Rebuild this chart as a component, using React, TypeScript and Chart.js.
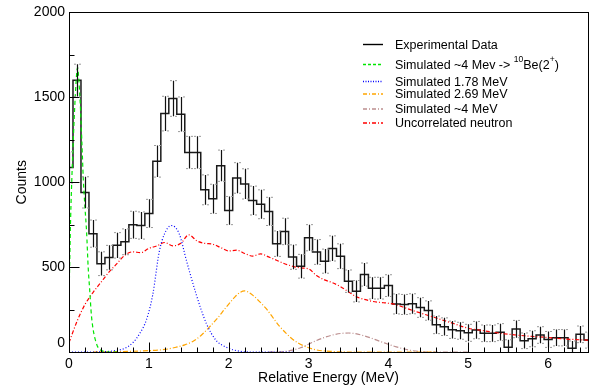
import React, { useEffect, useRef } from 'react';
import { Chart, registerables } from 'chart.js';

Chart.register(...registerables);

// Histogram bins (0.1 MeV wide, centred on these energies)
const binCenters = [
  0.0, 0.1, 0.2, 0.3, 0.4, 0.5, 0.6, 0.7, 0.8, 0.9,
  1.0, 1.1, 1.2, 1.3, 1.4, 1.5, 1.6, 1.7, 1.8, 1.9,
  2.0, 2.1, 2.2, 2.3, 2.4, 2.5, 2.6, 2.7, 2.8, 2.9,
  3.0, 3.1, 3.2, 3.3, 3.4, 3.5, 3.6, 3.7, 3.8, 3.9,
  4.0, 4.1, 4.2, 4.3, 4.4, 4.5, 4.6, 4.7, 4.8, 4.9,
  5.0, 5.1, 5.2, 5.3, 5.4, 5.5, 5.6, 5.7, 5.8, 5.9,
  6.0, 6.1, 6.2, 6.3, 6.4, 6.5,
];
const counts = [
  1087, 1600, 940, 697, 520, 556, 628, 649, 749, 745,
  816, 1123, 1404, 1493, 1400, 1175, 1175, 955, 902, 1097,
  833, 1025, 990, 892, 870, 828, 638, 710, 559, 505,
  673, 589, 535, 610, 564, 417, 358, 456, 376, 376,
  391, 283, 280, 284, 262, 244, 160, 149, 131, 125,
  113, 129, 110, 110, 117, 28, 135, 66, 78, 100,
  74, 84, 84, 22, 104, 70,
];
const errors = [
  92, 95, 92, 80, 70, 72, 75, 76, 80, 80,
  83, 93, 102, 105, 102, 95, 95, 88, 86, 92,
  83, 90, 89, 85, 85, 83, 75, 78, 72, 70,
  77, 73, 71, 74, 73, 66, 63, 68, 64, 64,
  64, 59, 59, 59, 58, 57, 52, 52, 51, 50,
  50, 51, 49, 49, 50, 44, 51, 46, 47, 49,
  47, 48, 48, 43, 49, 47,
];

// Simulated ~4 MeV -> 10Be(2+)
const greenX = [0, 0.01, 0.02, 0.04, 0.06, 0.08, 0.1, 0.11, 0.12, 0.14, 0.16, 0.18, 0.2, 0.22, 0.24, 0.26, 0.28, 0.3, 0.32, 0.34, 0.36, 0.4, 0.45, 0.5, 0.6];
const greenY = [300, 550, 780, 1080, 1320, 1520, 1660, 1675, 1620, 1470, 1250, 1010, 850, 710, 500, 360, 220, 140, 90, 55, 30, 10, 3, 0, 0];
// Simulated 1.78 MeV
const blueX = [0, 0.3, 0.45, 0.55, 0.7, 0.8, 0.88, 0.97, 1.05, 1.13, 1.2, 1.28, 1.38, 1.47, 1.59, 1.72, 1.84, 1.97, 2.13, 2.3, 2.8];
const blueY = [0, 0, 2, 6, 22, 55, 105, 190, 340, 590, 700, 745, 697, 540, 344, 168, 70, 28, 5, 0, 0];
// Simulated 2.69 MeV
const orangeX = [0.3, 0.6, 1.0, 1.2, 1.34, 1.45, 1.55, 1.66, 1.76, 1.87, 1.97, 2.07, 2.14, 2.2, 2.3, 2.38, 2.47, 2.55, 2.63, 2.72, 2.8, 2.88, 3.0, 3.1, 3.3, 3.5, 4.6];
const orangeY = [0, 2, 8, 15, 28, 42, 62, 100, 148, 205, 265, 320, 350, 360, 335, 300, 255, 205, 155, 110, 75, 50, 25, 12, 3, 0, 0];
// Simulated ~4 MeV
const brownX = [2.5, 2.7, 2.9, 3.1, 3.3, 3.5, 3.7, 3.9, 4.1, 4.3, 4.5, 5.0];
const brownY = [0, 3, 25, 68, 100, 112, 95, 62, 30, 8, 0, 0];
// Uncorrelated neutron
const redX = [
  0, 0.1, 0.2, 0.3, 0.4, 0.5, 0.6, 0.7, 0.8, 0.9, 1.0, 1.1, 1.2, 1.3, 1.4, 1.5, 1.6, 1.7, 1.8, 1.9,
  2.0, 2.1, 2.2, 2.3, 2.4, 2.5, 2.6, 2.7, 2.8, 2.9, 3.0, 3.1, 3.2, 3.3, 3.4, 3.5, 3.6, 3.7, 3.8, 3.9,
  4.0, 4.1, 4.2, 4.3, 4.4, 4.5, 4.6, 4.8, 5.0, 5.2, 5.4, 5.6, 5.8, 6.0, 6.2, 6.4, 6.5,
];
const redY = [
  55, 180, 280, 350, 410, 470, 520, 570, 590, 585, 610, 625, 645, 625, 640, 690, 655, 640, 635, 615,
  595, 600, 580, 565, 578, 560, 540, 520, 505, 495, 490, 450, 425, 408, 385, 355, 325, 310, 298, 292,
  287, 278, 262, 245, 230, 215, 200, 170, 140, 125, 110, 100, 92, 85, 77, 72, 70,
];

const xTickValues = [0, 1, 2, 3, 4, 5, 6];
const yTickValues = [0, 500, 1000, 1500, 2000];
const xMinorTicks = [0.2, 0.4, 0.6, 0.8, 1.2, 1.4, 1.6, 1.8, 2.2, 2.4, 2.6, 2.8, 3.2, 3.4, 3.6, 3.8, 4.2, 4.4, 4.6, 4.8, 5.2, 5.4, 5.6, 5.8, 6.2, 6.4];
const yMinorTicks = [250, 750, 1250, 1750];

const FONT = '"Liberation Sans", Arial, Helvetica, sans-serif';

const legendItems = [
  { parts: [{ t: 'Experimental Data' }], color: '#000000', dash: [] as number[], width: 1.4, y: 44.5 },
  {
    parts: [{ t: 'Simulated ~4 Mev -> ' }, { t: '10', sup: true }, { t: 'Be(2' }, { t: '+', sup: true }, { t: ')' }],
    color: '#00e600', dash: [3, 2], width: 1.3, y: 64.5,
  },
  { parts: [{ t: 'Simulated 1.78 MeV' }], color: '#0000ff', dash: [1, 1.5], width: 1.3, y: 81.5 },
  { parts: [{ t: 'Simulated 2.69 MeV' }], color: '#ffa500', dash: [4, 2, 1, 2], width: 1.3, y: 94 },
  { parts: [{ t: 'Simulated ~4 MeV' }], color: '#bc8f8f', dash: [4, 2, 1, 2], width: 1.3, y: 109 },
  { parts: [{ t: 'Uncorrelated neutron' }], color: 'rgb(255, 0, 0)', dash: [4, 2, 1, 2], width: 1.5, y: 123 },
];

function toXY(xs: number[], ys: number[]) {
  return xs.map((x, i) => ({ x, y: ys[i] }));
}

const decorPlugin = {
  id: 'rootDecor',
  afterDatasetsDraw(chart: any) {
    const { ctx, chartArea: a, scales } = chart;
    const xs = scales.x;
    const ys = scales.y;
    ctx.save();
    ctx.beginPath();
    ctx.rect(a.left, a.top, a.right - a.left, a.bottom - a.top);
    ctx.clip();
    for (let i = 0; i < binCenters.length; i++) {
      const px = Math.round(xs.getPixelForValue(binCenters[i])) + 0.5;
      const yTop = ys.getPixelForValue(counts[i] + errors[i]);
      const yBot = ys.getPixelForValue(counts[i] - errors[i]);
      ctx.strokeStyle = '#111111';
      ctx.lineWidth = 1.2;
      ctx.setLineDash([]);
      ctx.beginPath();
      ctx.moveTo(px, yTop);
      ctx.lineTo(px, yBot);
      ctx.stroke();
      ctx.strokeStyle = '#9a9a9a';
      ctx.lineWidth = 1;
      ctx.beginPath();
      ctx.moveTo(px - 3.5, yTop);
      ctx.lineTo(px - 1.5, yTop);
      ctx.moveTo(px + 1.5, yTop);
      ctx.lineTo(px + 3.5, yTop);
      ctx.moveTo(px - 3.5, yBot);
      ctx.lineTo(px - 1.5, yBot);
      ctx.moveTo(px + 1.5, yBot);
      ctx.lineTo(px + 3.5, yBot);
      ctx.stroke();
    }
    ctx.restore();
  },
  afterDraw(chart: any) {
    const { ctx, chartArea: a, scales } = chart;
    const xs = scales.x;
    const ys = scales.y;
    ctx.save();
    ctx.setLineDash([]);
    ctx.strokeStyle = '#000000';
    ctx.lineWidth = 1;
    ctx.strokeRect(Math.round(a.left) + 0.5, Math.round(a.top) + 0.5, Math.round(a.right - a.left), Math.round(a.bottom - a.top));
    ctx.beginPath();
    const bottom = Math.round(a.bottom) + 0.5;
    const left = Math.round(a.left) + 0.5;
    xTickValues.forEach((v) => {
      const p = Math.round(xs.getPixelForValue(v)) + 0.5;
      ctx.moveTo(p, bottom);
      ctx.lineTo(p, bottom - 10);
    });
    xMinorTicks.forEach((v) => {
      const p = Math.round(xs.getPixelForValue(v)) + 0.5;
      ctx.moveTo(p, bottom);
      ctx.lineTo(p, bottom - 5);
    });
    yTickValues.forEach((v) => {
      const p = Math.round(ys.getPixelForValue(v)) + 0.5;
      ctx.moveTo(left, p);
      ctx.lineTo(left + 10, p);
    });
    yMinorTicks.forEach((v) => {
      const p = Math.round(ys.getPixelForValue(v)) + 0.5;
      ctx.moveTo(left, p);
      ctx.lineTo(left + 5, p);
    });
    ctx.stroke();

    // legend
    const sx0 = 363;
    const sx1 = 383;
    const tx = 395;
    for (const it of legendItems) {
      ctx.save();
      ctx.setLineDash(it.dash);
      ctx.strokeStyle = it.color;
      ctx.lineWidth = it.width;
      ctx.beginPath();
      ctx.moveTo(sx0, it.y);
      ctx.lineTo(sx1, it.y);
      ctx.stroke();
      ctx.restore();
      ctx.save();
      ctx.fillStyle = '#000000';
      ctx.textAlign = 'left';
      ctx.textBaseline = 'middle';
      let x = tx;
      for (const p of it.parts as any[]) {
        if (p.sup) {
          ctx.font = `8.5px ${FONT}`;
          ctx.fillText(p.t, x, it.y - 5);
        } else {
          ctx.font = `12.5px ${FONT}`;
          ctx.fillText(p.t, x, it.y + 1);
        }
        x += ctx.measureText(p.t).width;
      }
      ctx.restore();
    }
    ctx.restore();
  },
};

export default function App() {
  const ref = useRef<HTMLCanvasElement | null>(null);
  useEffect(() => {
    if (!ref.current) return;
    const chart = new Chart(ref.current, {
      type: 'line',
      data: {
        datasets: [
          {
            label: 'Simulated ~4 Mev -> 10Be(2+)',
            data: toXY(greenX, greenY),
            borderColor: '#00e600',
            borderWidth: 1.2,
            borderDash: [4, 3],
            pointRadius: 0,
            cubicInterpolationMode: 'monotone',
            fill: false,
            order: 1,
          },
          {
            label: 'Simulated 1.78 MeV',
            data: toXY(blueX, blueY),
            borderColor: '#0000ff',
            borderWidth: 1.2,
            borderDash: [1, 2],
            pointRadius: 0,
            cubicInterpolationMode: 'monotone',
            fill: false,
            order: 1,
          },
          {
            label: 'Simulated 2.69 MeV',
            data: toXY(orangeX, orangeY),
            borderColor: '#ffa500',
            borderWidth: 1.2,
            borderDash: [5, 2, 1, 2],
            pointRadius: 0,
            cubicInterpolationMode: 'monotone',
            fill: false,
            order: 1,
          },
          {
            label: 'Simulated ~4 MeV',
            data: toXY(brownX, brownY),
            borderColor: '#bc8f8f',
            borderWidth: 1.2,
            borderDash: [5, 2, 1, 2],
            pointRadius: 0,
            cubicInterpolationMode: 'monotone',
            fill: false,
            order: 1,
          },
          {
            label: 'Uncorrelated neutron',
            data: toXY(redX, redY),
            borderColor: '#ff0000',
            borderWidth: 1.2,
            borderDash: [4, 2, 1, 2],
            pointRadius: 0,
            cubicInterpolationMode: 'monotone',
            fill: false,
            order: 1,
          },
          {
            label: 'Experimental Data',
            data: toXY(binCenters, counts),
            borderColor: '#1a1a1a',
            borderWidth: 1.5,
            stepped: 'middle',
            pointRadius: 0,
            fill: false,
            order: 10,
          },
        ],
      },
      options: {
        animation: false,
        responsive: false,
        maintainAspectRatio: false,
        layout: { padding: { top: 11, right: 7, left: 0, bottom: 0 } },
        plugins: {
          legend: { display: false },
          tooltip: { enabled: false },
          title: { display: false },
        },
        scales: {
          x: {
            type: 'linear',
            min: 0,
            max: 6.5,
            afterFit: (s: any) => {
              s.height = 37;
            },
            ticks: {
              stepSize: 1,
              includeBounds: false,
              autoSkip: false,
              maxRotation: 0,
              padding: 4,
              color: '#000000',
              font: { family: FONT, size: 14 },
            },
            grid: { display: false, drawTicks: false },
            border: { display: false },
            title: {
              display: true,
              text: 'Relative Energy (MeV)',
              color: '#000000',
              font: { family: FONT, size: 14 },
              padding: { top: 0, bottom: 2 },
            },
          },
          y: {
            type: 'linear',
            min: 0,
            max: 2000,
            afterFit: (s: any) => {
              s.width = 69;
            },
            ticks: {
              stepSize: 500,
              includeBounds: false,
              padding: 4,
              color: '#000000',
              font: { family: FONT, size: 14 },
              callback: (v: any) => (Number(v) === 0 ? ['0', ''] : String(v)),
            },
            grid: { display: false, drawTicks: false },
            border: { display: false },
            title: {
              display: true,
              text: 'Counts',
              color: '#000000',
              font: { family: FONT, size: 14 },
              padding: { top: 14, bottom: 0 },
            },
          },
        },
      },
      plugins: [decorPlugin],
    } as any);
    return () => chart.destroy();
  }, []);

  return (
    <div style={{ position: 'absolute', left: 0, top: 0, width: 595, height: 389, background: '#ffffff' }}>
      <canvas ref={ref} width={595} height={389} style={{ width: 595, height: 389, display: 'block' }} />
    </div>
  );
}
